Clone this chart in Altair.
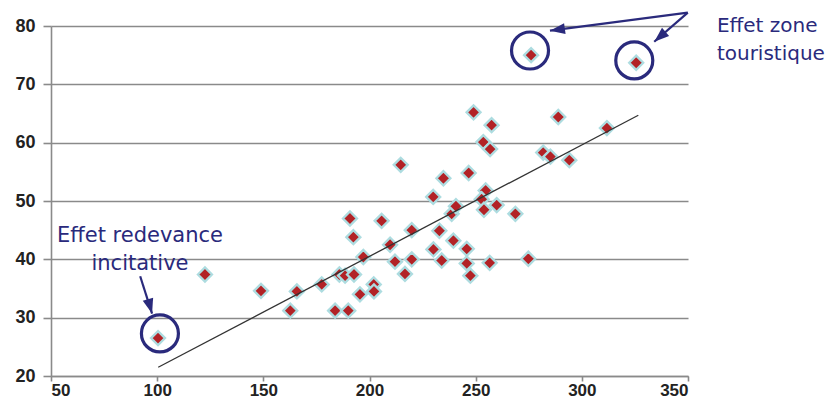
import altair as alt
import pandas as pd

# ---- scatter values ----
cost = [100.4, 122.5, 148.9, 162.7, 165.8, 177.5, 183.8, 190.0, 185.8, 188.5,
        192.7, 195.5, 202.0, 202.1, 197.1, 192.4, 190.8, 205.7, 209.7, 212.0,
        219.9, 216.7, 219.9, 214.7, 230.1, 232.9, 234.0, 239.5, 230.0, 234.8,
        238.7, 240.7, 245.8, 245.8, 247.5, 246.7, 249.0, 253.6, 256.8, 257.5,
        254.7, 252.8, 253.9, 259.9, 256.6, 268.7, 274.8, 276.1, 281.8, 285.2,
        288.9, 294.1, 311.8, 325.6]
rate = [26.5, 37.4, 34.6, 31.2, 34.5, 35.7, 31.2, 31.2, 37.4, 37.2,
        37.4, 34.0, 35.7, 34.5, 40.4, 43.8, 47.0, 46.6, 42.5, 39.6,
        40.0, 37.5, 45.0, 56.2, 41.7, 44.9, 39.8, 43.2, 50.7, 53.9,
        47.8, 49.1, 41.8, 39.3, 37.2, 54.8, 65.2, 60.1, 58.9, 63.0,
        51.8, 50.3, 48.5, 49.3, 39.4, 47.8, 40.1, 75.0, 58.3, 57.6,
        64.4, 57.0, 62.5, 73.7]

# trend line end points
trend_x = [100.5, 326.6]
trend_y = [21.5, 64.7]

# annotation circles
circ_x = [275.6, 324.7, 101.3]
circ_y = [75.8, 74.1, 27.3]

# annotation arrows (start -> tip) and head rotation
arr_x = [349.9, 349.9, 92.0]
arr_y = [82.3, 82.3, 37.1]
arr_x2 = [285.0, 334.1, 97.6]
arr_y2 = [79.2, 77.3, 30.7]
arr_angle = [262, 229, 164]

# annotation texts
txt = ["Effet zone", "touristique", "Effet redevance", "incitative"]
txt_x = [363.6, 363.6, 91.9, 91.9]
txt_y = [79.0, 74.2, 43.0, 38.1]
txt_align = ["left", "left", "center", "center"]

x_ticks = [50, 100, 150, 200, 250, 300, 350]
y_ticks = [20, 30, 40, 50, 60, 70, 80]

NAVY = "#2A2A7C"
GRID = "#8a8a8a"

pts = pd.DataFrame({"x": cost, "y": rate})
trend = pd.DataFrame({"x": trend_x, "y": trend_y})
circ = pd.DataFrame({"x": circ_x, "y": circ_y})
arr = pd.DataFrame({"x": arr_x, "y": arr_y, "x2": arr_x2, "y2": arr_y2, "a": arr_angle})
tx = pd.DataFrame({"t": txt, "x": txt_x, "y": txt_y, "al": txt_align})

xs = alt.Scale(domain=[50, 350], nice=False, zero=False)
ys = alt.Scale(domain=[20, 80], nice=False, zero=False)

xaxis = alt.Axis(values=x_ticks, grid=False, title=None, domainColor=GRID, domainWidth=1.6,
                 tickColor=GRID, tickWidth=1.6, tickSize=5, labelFont="Liberation Sans",
                 labelFontSize=17, labelFontWeight="bold", labelColor="#222222",
                 labelPadding=1)
yaxis = alt.Axis(values=y_ticks, grid=True, gridColor=GRID, gridWidth=1.6, title=None,
                 domainColor=GRID, domainWidth=1.6, tickColor=GRID, tickWidth=1.6, tickSize=8,
                 labelFont="Liberation Sans", labelFontSize=18, labelFontWeight="bold",
                 labelColor="#222222", labelPadding=8)

points = alt.Chart(pts).mark_point(
    shape="diamond", filled=True, fill="#B22226", stroke="#ADDCE0",
    strokeWidth=2.3, size=196, opacity=1, fillOpacity=1, strokeOpacity=1
).encode(
    x=alt.X("x:Q", scale=xs, axis=xaxis),
    y=alt.Y("y:Q", scale=ys, axis=yaxis),
)

line = alt.Chart(trend).mark_line(color="#333333", strokeWidth=1.3).encode(
    x=alt.X("x:Q", scale=xs), y=alt.Y("y:Q", scale=ys)
)

circles = alt.Chart(circ).mark_point(
    shape="circle", filled=False, stroke=NAVY, strokeWidth=3.2, size=1369, opacity=1
).encode(x=alt.X("x:Q", scale=xs), y=alt.Y("y:Q", scale=ys))

shafts = alt.Chart(arr).mark_rule(color=NAVY, strokeWidth=2.2).encode(
    x=alt.X("x:Q", scale=xs), y=alt.Y("y:Q", scale=ys), x2="x2:Q", y2="y2:Q"
)

heads = alt.Chart(arr).mark_point(
    shape="M0,0L-0.36,1L0.36,1Z", filled=True, fill=NAVY, strokeWidth=0,
    size=900, opacity=1
).encode(
    x=alt.X("x2:Q", scale=xs), y=alt.Y("y2:Q", scale=ys),
    angle=alt.Angle("a:Q", scale=None),
)

texts_left = alt.Chart(tx).transform_filter("datum.al == 'left'").mark_text(
    font="DejaVu Sans", fontSize=20, color=NAVY, align="left", baseline="alphabetic"
).encode(x=alt.X("x:Q", scale=xs), y=alt.Y("y:Q", scale=ys), text="t:N")

texts_center = alt.Chart(tx).transform_filter("datum.al == 'center'").mark_text(
    font="DejaVu Sans", fontSize=21, color=NAVY, align="center", baseline="alphabetic"
).encode(x=alt.X("x:Q", scale=xs), y=alt.Y("y:Q", scale=ys), text="t:N")

chart = alt.layer(points, line, circles, shafts, heads, texts_left, texts_center).properties(
    width=637, height=350,
    autosize=alt.AutoSizeParams(type="none"),
    padding={"left": 43, "top": 18, "right": 140, "bottom": 26},
    background="white",
).configure_view(stroke=None)

chart.save("out.html", embed_options={"renderer": "svg", "actions": False})
